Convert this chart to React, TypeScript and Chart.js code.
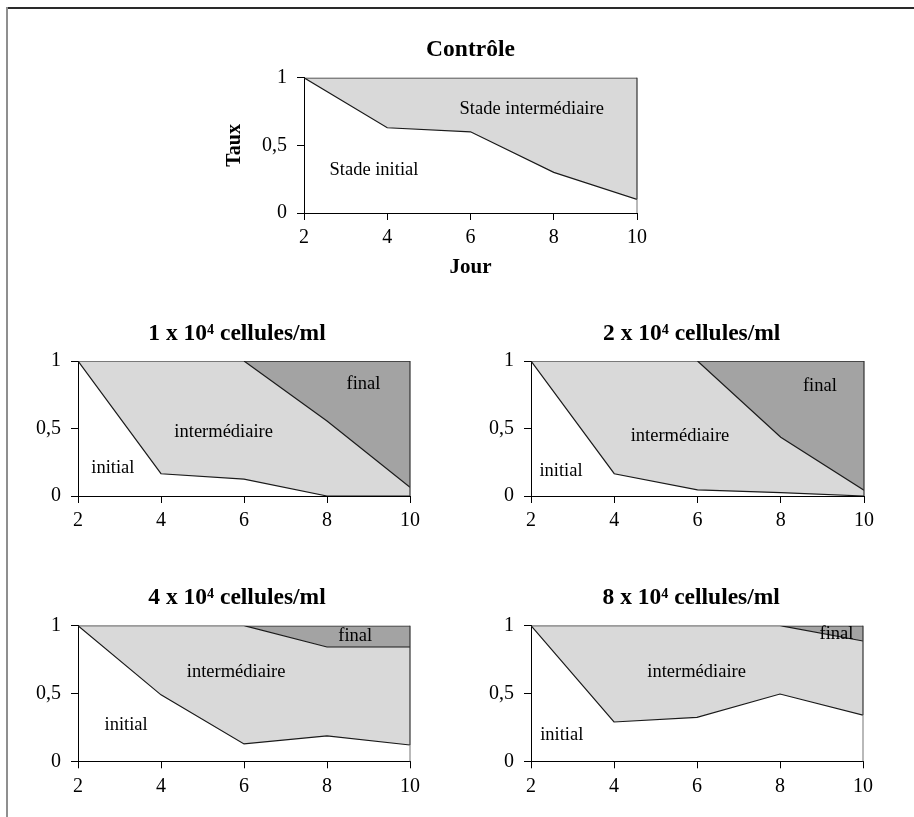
import { useEffect, useRef } from 'react';
import { Chart, registerables } from 'chart.js';

Chart.register(...registerables);

const SERIF = '"Liberation Serif", "Times New Roman", Times, serif';

// ---------- data ----------
const days = [2, 4, 6, 8, 10];
const upperBound = [1, 1, 1, 1, 1];

const controlInitial = [1, 0.63, 0.6, 0.3, 0.1];

const c1Initial = [1, 0.165, 0.125, 0, 0];
const c1UpperIntermediate = [1, 1, 1, 0.555, 0.065];

const c2Initial = [1, 0.165, 0.045, 0.025, 0];
const c2UpperIntermediate = [1, 1, 1, 0.435, 0.042];

const c4Initial = [1, 0.49, 0.128, 0.187, 0.12];
const c4UpperIntermediate = [1, 1, 1, 0.843, 0.843];

const c8Initial = [1, 0.29, 0.324, 0.496, 0.34];
const c8UpperIntermediate = [1, 1, 1, 1, 0.887];

const xTickValues = [2, 4, 6, 8, 10];
const yTickValues = [0, 0.5, 1];
const yTickLabels = ['0', '0,5', '1'];

const panelTitles = [
  'Contrôle',
  '1 x 10⁴ cellules/ml',
  '2 x 10⁴ cellules/ml',
  '4 x 10⁴ cellules/ml',
  '8 x 10⁴ cellules/ml',
];

// ---------- styles ----------
const LINE = '#1a1a1a';
const TOP_LINE = '#2a2a2a';
const FILL_MID = '#d9d9d9';
const FILL_FINAL = '#a3a3a3';

type Annot = { text: string; x: number; y: number };
interface PanelCfg {
  key: string;
  title: string;
  initial: number[];
  upperIntermediate: number[] | null;
  annotations: Annot[];
  box: { left: number; top: number; width: number; height: number };
  padding: { left: number; right: number; top: number; bottom: number };
  yAxisWidth: number;
  rightSpace: number;
  xAxisHeight: number;
  titlePadding: { top: number; bottom: number };
  titleFullSize: boolean;
  yTitle?: string;
  xTitle?: string;
}

const panels: PanelCfg[] = [
  {
    key: 'ctrl',
    title: panelTitles[0],
    initial: controlInitial,
    upperIntermediate: null,
    annotations: [
      { text: 'Stade intermédiaire', x: 7.47, y: 0.77 },
      { text: 'Stade initial', x: 3.68, y: 0.32 },
    ],
    box: { left: 200, top: 30, width: 480, height: 260 },
    padding: { left: 0, right: 43, top: 0, bottom: 7 },
    yAxisWidth: 104,
    rightSpace: 0,
    xAxisHeight: 70,
    titlePadding: { top: 6, bottom: 13.5 },
    titleFullSize: false,
    yTitle: 'Taux',
    xTitle: 'Jour',
  },
  {
    key: 'c1',
    title: panelTitles[1],
    initial: c1Initial,
    upperIntermediate: c1UpperIntermediate,
    annotations: [
      { text: 'final', x: 8.88, y: 0.83 },
      { text: 'intermédiaire', x: 5.51, y: 0.47 },
      { text: 'initial', x: 2.84, y: 0.205 },
    ],
    box: { left: 0, top: 300, width: 474, height: 240 },
    padding: { left: 0, right: 0, top: 0, bottom: 4 },
    yAxisWidth: 78,
    rightSpace: 64,
    xAxisHeight: 40,
    titlePadding: { top: 20, bottom: 12.8 },
    titleFullSize: true,
  },
  {
    key: 'c2',
    title: panelTitles[2],
    initial: c2Initial,
    upperIntermediate: c2UpperIntermediate,
    annotations: [
      { text: 'final', x: 8.94, y: 0.815 },
      { text: 'intermédiaire', x: 5.58, y: 0.444 },
      { text: 'initial', x: 2.72, y: 0.185 },
    ],
    box: { left: 474, top: 300, width: 436, height: 240 },
    padding: { left: 0, right: 0.6, top: 0, bottom: 4 },
    yAxisWidth: 57,
    rightSpace: 45.4,
    xAxisHeight: 40,
    titlePadding: { top: 20, bottom: 12.8 },
    titleFullSize: true,
  },
  {
    key: 'c4',
    title: panelTitles[3],
    initial: c4Initial,
    upperIntermediate: c4UpperIntermediate,
    annotations: [
      { text: 'final', x: 8.68, y: 0.92 },
      { text: 'intermédiaire', x: 5.81, y: 0.66 },
      { text: 'initial', x: 3.16, y: 0.27 },
    ],
    box: { left: 0, top: 565, width: 474, height: 240 },
    padding: { left: 0, right: 0, top: 0, bottom: 3.7 },
    yAxisWidth: 78,
    rightSpace: 64,
    xAxisHeight: 40,
    titlePadding: { top: 18.9, bottom: 13.6 },
    titleFullSize: true,
  },
  {
    key: 'c8',
    title: panelTitles[4],
    initial: c8Initial,
    upperIntermediate: c8UpperIntermediate,
    annotations: [
      { text: 'final', x: 9.36, y: 0.94 },
      { text: 'intermédiaire', x: 5.99, y: 0.66 },
      { text: 'initial', x: 2.74, y: 0.194 },
    ],
    box: { left: 474, top: 565, width: 436, height: 240 },
    padding: { left: 0, right: 1.6, top: 0, bottom: 3.7 },
    yAxisWidth: 57,
    rightSpace: 45.4,
    xAxisHeight: 40,
    titlePadding: { top: 18.9, bottom: 13.6 },
    titleFullSize: true,
  },
];

function buildChart(canvas: HTMLCanvasElement, cfg: PanelCfg) {
  const pts = (vals: number[]) => days.map((d, i) => ({ x: d, y: vals[i] }));
  const datasets: any[] = [
    {
      label: 'initial',
      data: pts(cfg.initial),
      borderColor: LINE,
      borderWidth: 1.2,
      pointRadius: 0,
      fill: false,
      tension: 0,
    },
  ];
  if (cfg.upperIntermediate) {
    datasets.push({
      label: 'intermédiaire',
      data: pts(cfg.upperIntermediate),
      borderColor: LINE,
      borderWidth: 1.2,
      pointRadius: 0,
      fill: '-1',
      backgroundColor: FILL_MID,
      tension: 0,
    });
    datasets.push({
      label: 'final',
      data: pts(upperBound),
      borderColor: TOP_LINE,
      borderWidth: 1.5,
      pointRadius: 0,
      fill: '-1',
      backgroundColor: FILL_FINAL,
      tension: 0,
    });
  } else {
    datasets.push({
      label: 'intermédiaire',
      data: pts(upperBound),
      borderColor: TOP_LINE,
      borderWidth: 1.5,
      pointRadius: 0,
      fill: '-1',
      backgroundColor: FILL_MID,
      tension: 0,
    });
  }

  const lastInitial = cfg.initial[cfg.initial.length - 1];

  const overlay = {
    id: 'overlay_' + cfg.key,
    afterDatasetsDraw(chart: any) {
      const { ctx, chartArea, scales } = chart;
      const yMid = scales.y.getPixelForValue(lastInitial);
      ctx.save();
      ctx.lineWidth = 1.2;
      ctx.strokeStyle = '#333';
      ctx.beginPath();
      ctx.moveTo(chartArea.right, chartArea.top);
      ctx.lineTo(chartArea.right, yMid);
      ctx.stroke();
      ctx.strokeStyle = '#8a8a8a';
      ctx.beginPath();
      ctx.moveTo(chartArea.right, yMid);
      ctx.lineTo(chartArea.right, chartArea.bottom);
      ctx.stroke();

      ctx.fillStyle = '#000';
      ctx.font = '18.5px ' + SERIF;
      ctx.textAlign = 'center';
      ctx.textBaseline = 'middle';
      for (const a of cfg.annotations) {
        ctx.fillText(a.text, scales.x.getPixelForValue(a.x), scales.y.getPixelForValue(a.y));
      }
      ctx.restore();
    },
  };

  const scales: any = {
    x: {
      type: 'linear',
      min: 2,
      max: 10,
      afterFit: (s: any) => {
        s.height = cfg.xAxisHeight;
      },
      afterBuildTicks: (s: any) => {
        s.ticks = xTickValues.map((v) => ({ value: v }));
      },
      ticks: {
        color: '#000',
        font: { family: SERIF, size: 20, lineHeight: 1.2 },
        padding: 6,
        autoSkip: false,
        maxRotation: 0,
        callback: (v: any) => String(v),
      },
      grid: { drawOnChartArea: false, drawTicks: true, tickLength: 7, color: '#000', lineWidth: 1 },
      border: { display: true, color: '#000', width: 1 },
      title: cfg.xTitle
        ? {
            display: true,
            text: cfg.xTitle,
            color: '#000',
            font: { family: SERIF, size: 21, weight: 'bold', lineHeight: 1.2 },
            padding: { top: 0, bottom: 2.4 },
          }
        : { display: false },
    },
    y: {
      type: 'linear',
      position: 'left',
      min: 0,
      max: 1,
      afterFit: (s: any) => {
        s.width = cfg.yAxisWidth;
      },
      afterBuildTicks: (s: any) => {
        s.ticks = yTickValues.map((v) => ({ value: v }));
      },
      ticks: {
        color: '#000',
        font: { family: SERIF, size: 20, lineHeight: 1.2 },
        padding: 10,
        autoSkip: false,
        callback: (v: any) => {
          const i = yTickValues.indexOf(Number(v));
          return i >= 0 ? yTickLabels[i] : '';
        },
      },
      grid: { drawOnChartArea: false, drawTicks: true, tickLength: 7, color: '#000', lineWidth: 1 },
      border: { display: true, color: '#000', width: 1 },
      title: cfg.yTitle
        ? {
            display: true,
            text: cfg.yTitle,
            color: '#000',
            font: { family: SERIF, size: 20, weight: 'bold', lineHeight: 1.2 },
            padding: { top: 23, bottom: 0 },
          }
        : { display: false },
    },
  };
  if (cfg.rightSpace > 0) {
    scales.ySpace = {
      type: 'linear',
      position: 'right',
      min: 0,
      max: 1,
      display: true,
      afterFit: (s: any) => {
        s.width = cfg.rightSpace;
      },
      ticks: { display: false },
      grid: { display: false, drawTicks: false },
      border: { display: false },
      title: { display: false },
    };
  }

  return new Chart(canvas, {
    type: 'line',
    data: { datasets },
    plugins: [overlay],
    options: {
      responsive: false,
      animation: false,
      devicePixelRatio: 1,
      layout: { padding: cfg.padding },
      events: [],
      plugins: {
        legend: { display: false },
        tooltip: { enabled: false },
        title: {
          display: true,
          text: cfg.title,
          color: '#000',
          font: { family: SERIF, size: 23.5, weight: 'bold', lineHeight: 1.2 },
          padding: cfg.titlePadding,
          fullSize: cfg.titleFullSize,
        },
      },
      scales,
    } as any,
  });
}

function Panel({ cfg }: { cfg: PanelCfg }) {
  const ref = useRef<HTMLCanvasElement | null>(null);
  useEffect(() => {
    if (!ref.current) return;
    const chart = buildChart(ref.current, cfg);
    return () => chart.destroy();
  }, [cfg]);
  return (
    <canvas
      ref={ref}
      width={cfg.box.width}
      height={cfg.box.height}
      style={{
        position: 'absolute',
        left: cfg.box.left,
        top: cfg.box.top,
        width: cfg.box.width,
        height: cfg.box.height,
      }}
    />
  );
}

export default function App() {
  return (
    <div
      style={{
        position: 'absolute',
        left: 0,
        top: 0,
        width: 914,
        height: 817,
        overflow: 'hidden',
        background: '#fff',
      }}
    >
      <div
        style={{
          position: 'absolute',
          left: 7,
          top: 7,
          width: 907,
          height: 0,
          borderTop: '2px solid #2a2a2a',
        }}
      />
      <div
        style={{
          position: 'absolute',
          left: 6,
          top: 7,
          width: 0,
          height: 810,
          borderLeft: '2px solid #8f8f8f',
        }}
      />
      {panels.map((p) => (
        <Panel key={p.key} cfg={p} />
      ))}
    </div>
  );
}
